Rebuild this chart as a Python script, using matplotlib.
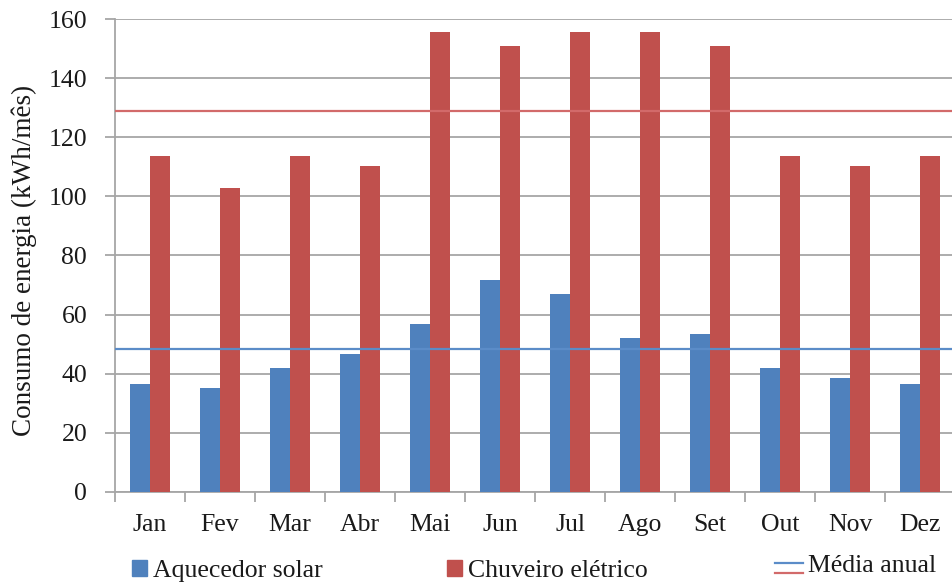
import matplotlib
matplotlib.use("Agg")
import matplotlib.pyplot as plt
import numpy as np
from matplotlib.patches import Patch
from matplotlib.lines import Line2D
from matplotlib.legend_handler import HandlerBase

months = ["Jan", "Fev", "Mar", "Abr", "Mai", "Jun", "Jul", "Ago", "Set", "Out", "Nov", "Dez"]
solar = [36.4, 35.1, 42.0, 46.7, 56.8, 71.7, 67.0, 52.1, 53.5, 42.0, 38.5, 36.4]
chuveiro = [113.7, 102.7, 113.7, 110.3, 155.5, 150.8, 155.5, 155.5, 150.8, 113.7, 110.3, 113.7]
media_solar = 48.4
media_chuveiro = 129.0
yticks = [0, 20, 40, 60, 80, 100, 120, 140, 160]

BLUE = "#4F81BD"
RED = "#C0504D"
GRID = "#A6A6A6"
LBLUE = "#5B8CC8"
LRED = "#D26A6A"

plt.rcParams['font.family'] = ['Liberation Serif', 'DejaVu Serif']
FS = 18.5
TXT = "#1a1a1a"

W, H = 952, 583
fig = plt.figure(figsize=(W / 100, H / 100), dpi=100)
ax = fig.add_axes([115 / W, 1 - 492 / H, (955 - 115) / W, (492 - 19) / H])

x = np.arange(len(months))
bw = 20 / 70
ax.bar(x - bw / 2, solar, width=bw, color=BLUE, zorder=3)
ax.bar(x + bw / 2, chuveiro, width=bw, color=RED, zorder=3)
ax.axhline(media_solar, color=LBLUE, lw=1.6, zorder=4)
ax.axhline(media_chuveiro, color=LRED, lw=1.6, zorder=4)

ax.set_xlim(-0.5, len(months) - 0.5)
ax.set_ylim(0, 160)
ax.set_yticks(yticks)
ax.yaxis.grid(True, color=GRID, lw=1.3, zorder=0)
ax.set_axisbelow(True)

ax.set_xticks(x)
ax.set_xticklabels(months, fontsize=FS, color=TXT)
ax.set_xticks(np.arange(len(months) + 1) - 0.5, minor=True)
ax.tick_params(axis='x', which='major', length=0, pad=16)
ax.tick_params(axis='x', which='minor', length=7, width=1.3, color=GRID)
ax.tick_params(axis='y', length=7, width=1.3, color=GRID, labelsize=FS, labelcolor=TXT, pad=13)

for s in ['top', 'right']:
    ax.spines[s].set_visible(False)
for s in ['left', 'bottom']:
    ax.spines[s].set_color(GRID)
    ax.spines[s].set_linewidth(1.3)

ax.set_ylabel("Consumo de energia (kWh/mês)", fontsize=19.5, color=TXT)
ax.yaxis.label.set_va('center')
ax.yaxis.label.set_ha('center')
ax.yaxis.set_label_coords(-(115 - 24) / (955 - 115), 0.49)


class DoubleLine(HandlerBase):
    def create_artists(self, legend, orig_handle, xdescent, ydescent, width, height, fontsize, trans):
        yc = height / 2 - ydescent - 3.5
        d = 3.6
        l1 = Line2D([-xdescent, width - xdescent], [yc + d, yc + d], color=LBLUE, lw=1.6, transform=trans)
        l2 = Line2D([-xdescent, width - xdescent], [yc - d, yc - d], color=LRED, lw=1.6, transform=trans)
        return [l1, l2]


fpx = FS * 100 / 72
common = dict(frameon=False, borderpad=0, borderaxespad=0, fontsize=FS, loc='center left', labelcolor=TXT)
leg1 = fig.legend([Patch(color=BLUE)], ["Aquecedor solar"], handlelength=15 / fpx, handleheight=15 / fpx,
                  handletextpad=6 / fpx, bbox_to_anchor=(132 / W, 1 - 571 / H), **common)
leg2 = fig.legend([Patch(color=RED)], ["Chuveiro elétrico"], handlelength=15 / fpx, handleheight=15 / fpx,
                  handletextpad=6 / fpx, bbox_to_anchor=(447 / W, 1 - 571 / H), **common)
leg3 = fig.legend([object()], ["Média anual"], handler_map={object: DoubleLine()}, handlelength=28 / fpx,
                  handletextpad=5 / fpx, bbox_to_anchor=(775 / W, 1 - 566 / H), **common)

fig.savefig("out.png", dpi=100)
